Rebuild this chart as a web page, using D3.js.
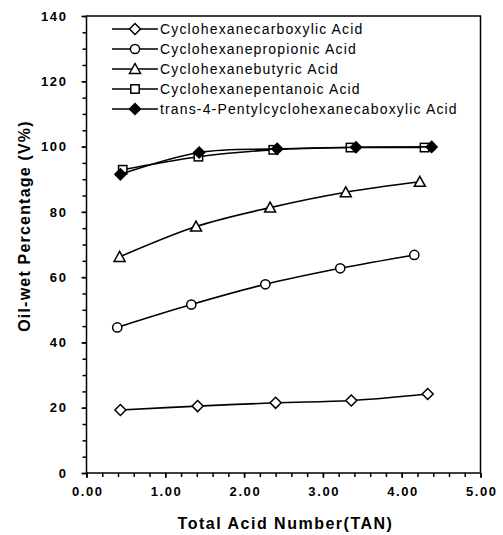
<!DOCTYPE html>
<html>
<head>
<meta charset="utf-8">
<script src="https://cdn.jsdelivr.net/npm/d3@7"></script>
<style>
  html, body { margin: 0; padding: 0; background: #fff; }
  svg { display: block; font-family: "Liberation Sans", Arial, sans-serif; }
</style>
</head>
<body>
<svg id="chart" width="503" height="535"></svg>
<script>
// Series names (legend order = drawing order)
const seriesNames = [
  "Cyclohexanecarboxylic Acid",
  "Cyclohexanepropionic Acid",
  "Cyclohexanebutyric Acid",
  "Cyclohexanepentanoic Acid",
  "trans-4-Pentylcyclohexanecaboxylic Acid"
];
const markerTypes = ["diamond", "circle", "triangle", "square", "diamondFilled"];

// Total acid number (x) and oil-wet percentage (y) per series
const tanCarboxylic = [0.43, 1.41, 2.40, 3.36, 4.33];
const oilCarboxylic = [19.3, 20.5, 21.5, 22.2, 24.2];

const tanPropionic = [0.39, 1.33, 2.27, 3.22, 4.16];
const oilPropionic = [44.6, 51.6, 57.8, 62.7, 66.8];

const tanButyric = [0.42, 1.39, 2.33, 3.29, 4.23];
const oilButyric = [66.2, 75.5, 81.3, 86.0, 89.2];

const tanPentanoic = [0.46, 1.42, 2.37, 3.35, 4.29];
const oilPentanoic = [92.9, 96.9, 99.0, 99.7, 99.7];

const tanPentylCyclo = [0.43, 1.43, 2.42, 3.42, 4.38];
const oilPentylCyclo = [91.5, 98.2, 99.3, 99.8, 99.9];

// Axis ticks
const xTickValues = [0, 1, 2, 3, 4, 5];
const yTickValues = [0, 20, 40, 60, 80, 100, 120, 140];

const xTitle = "Total Acid Number(TAN)";
const yTitle = "Oil-wet Percentage (V%)";

const seriesX = [tanCarboxylic, tanPropionic, tanButyric, tanPentanoic, tanPentylCyclo];
const seriesY = [oilCarboxylic, oilPropionic, oilButyric, oilPentanoic, oilPentylCyclo];
const series = seriesNames.map((name, i) => ({
  name,
  marker: markerTypes[i],
  points: seriesX[i].map((x, j) => ({ x, y: seriesY[i][j] }))
}));

const svg = d3.select("#chart");
const plot = { left: 86.5, right: 480.5, top: 16, bottom: 473 };

const x = d3.scaleLinear().domain([0, 5]).range([plot.left, plot.right]);
const y = d3.scaleLinear().domain([0, 140]).range([plot.bottom, plot.top]);

// Minor ticks
const xMinor = d3.range(0, 5.0001, 0.2);
const yMinor = d3.range(0, 140.001, 5);

const axisG = svg.append("g");

axisG.append("g")
  .attr("transform", `translate(0,${plot.bottom})`)
  .call(d3.axisBottom(x).tickValues(xMinor).tickSize(4).tickFormat(""))
  .call(g => g.select(".domain").remove())
  .call(g => g.selectAll("line").attr("stroke", "#000").attr("stroke-width", 1.5));

axisG.append("g")
  .attr("transform", `translate(${plot.left},0)`)
  .call(d3.axisLeft(y).tickValues(yMinor).tickSize(4).tickFormat(""))
  .call(g => g.select(".domain").remove())
  .call(g => g.selectAll("line").attr("stroke", "#000").attr("stroke-width", 1.5));

// Major tick labels
const xAxis = axisG.append("g")
  .attr("transform", `translate(0,${plot.bottom})`)
  .call(d3.axisBottom(x).tickValues(xTickValues).tickSize(5).tickPadding(9).tickFormat(d3.format(".2f")));
xAxis.select(".domain").remove();
xAxis.selectAll("line").attr("stroke", "#000").attr("stroke-width", 1.5);
xAxis.selectAll("text")
  .attr("fill", "#000")
  .style("font-size", "13px")
  .style("font-weight", "bold")
  .style("letter-spacing", "1.6px")
  .attr("dx", "0.8px");

const yAxis = axisG.append("g")
  .attr("transform", `translate(${plot.left},0)`)
  .call(d3.axisLeft(y).tickValues(yTickValues).tickSize(5).tickPadding(14).tickFormat(d3.format("d")));
yAxis.select(".domain").remove();
yAxis.selectAll("line").attr("stroke", "#000").attr("stroke-width", 1.5);
yAxis.selectAll("text")
  .attr("fill", "#000")
  .style("font-size", "13px")
  .style("font-weight", "bold")
  .style("letter-spacing", "1.6px");

// Plot frame
svg.append("rect")
  .attr("x", plot.left).attr("y", plot.top)
  .attr("width", plot.right - plot.left).attr("height", plot.bottom - plot.top)
  .attr("fill", "none").attr("stroke", "#000").attr("stroke-width", 1.5);

// Axis titles
svg.append("text")
  .attr("x", (plot.left + plot.right) / 2 + 2)
  .attr("y", 529)
  .attr("text-anchor", "middle")
  .style("font-size", "16px")
  .style("font-weight", "bold")
  .style("letter-spacing", "1.5px")
  .text(xTitle);

svg.append("text")
  .attr("transform", `translate(30,226) rotate(-90)`)
  .attr("text-anchor", "middle")
  .style("font-size", "16px")
  .style("font-weight", "bold")
  .style("letter-spacing", "1.2px")
  .text(yTitle);

// Marker shapes
function drawMarker(g, type) {
  if (type === "diamond" || type === "diamondFilled") {
    g.append("path")
      .attr("d", "M0,-5.5L5.5,0L0,5.5L-5.5,0Z")
      .attr("fill", type === "diamondFilled" ? "#000" : "#fff")
      .attr("stroke", "#000").attr("stroke-width", 1.5);
  } else if (type === "circle") {
    g.append("circle").attr("r", 4.6)
      .attr("fill", "#fff").attr("stroke", "#000").attr("stroke-width", 1.5);
  } else if (type === "triangle") {
    g.append("path")
      .attr("d", "M0,-5.5L5.5,4.5L-5.5,4.5Z")
      .attr("fill", "#fff").attr("stroke", "#000").attr("stroke-width", 1.5);
  } else if (type === "square") {
    g.append("rect").attr("x", -4.2).attr("y", -4.2).attr("width", 8.4).attr("height", 8.4)
      .attr("fill", "#fff").attr("stroke", "#000").attr("stroke-width", 1.5);
  }
}

const line = d3.line()
  .x(d => x(d.x))
  .y(d => y(d.y))
  .curve(d3.curveCatmullRom.alpha(0));

const seriesG = svg.append("g");
series.forEach(s => {
  const g = seriesG.append("g");
  g.append("path")
    .datum(s.points)
    .attr("d", line)
    .attr("fill", "none")
    .attr("stroke", "#000")
    .attr("stroke-width", 1.6);
  g.selectAll("g.pt")
    .data(s.points)
    .join("g")
    .attr("class", "pt")
    .attr("transform", d => `translate(${x(d.x)},${y(d.y)})`)
    .each(function () { drawMarker(d3.select(this), s.marker); });
});

// Legend
const legend = svg.append("g").attr("transform", "translate(112,29)");
series.forEach((s, i) => {
  const row = legend.append("g").attr("transform", `translate(0,${i * 20})`);
  row.append("line")
    .attr("x1", 0).attr("x2", 46).attr("y1", 0).attr("y2", 0)
    .attr("stroke", "#000").attr("stroke-width", 1.6);
  drawMarker(row.append("g").attr("transform", "translate(23,0)"), s.marker);
  row.append("text")
    .attr("x", 48)
    .attr("y", 0)
    .attr("dy", "0.35em")
    .style("font-size", "14px")
    .style("letter-spacing", "1.15px")
    .text(s.name);
});
</script>
</body>
</html>
